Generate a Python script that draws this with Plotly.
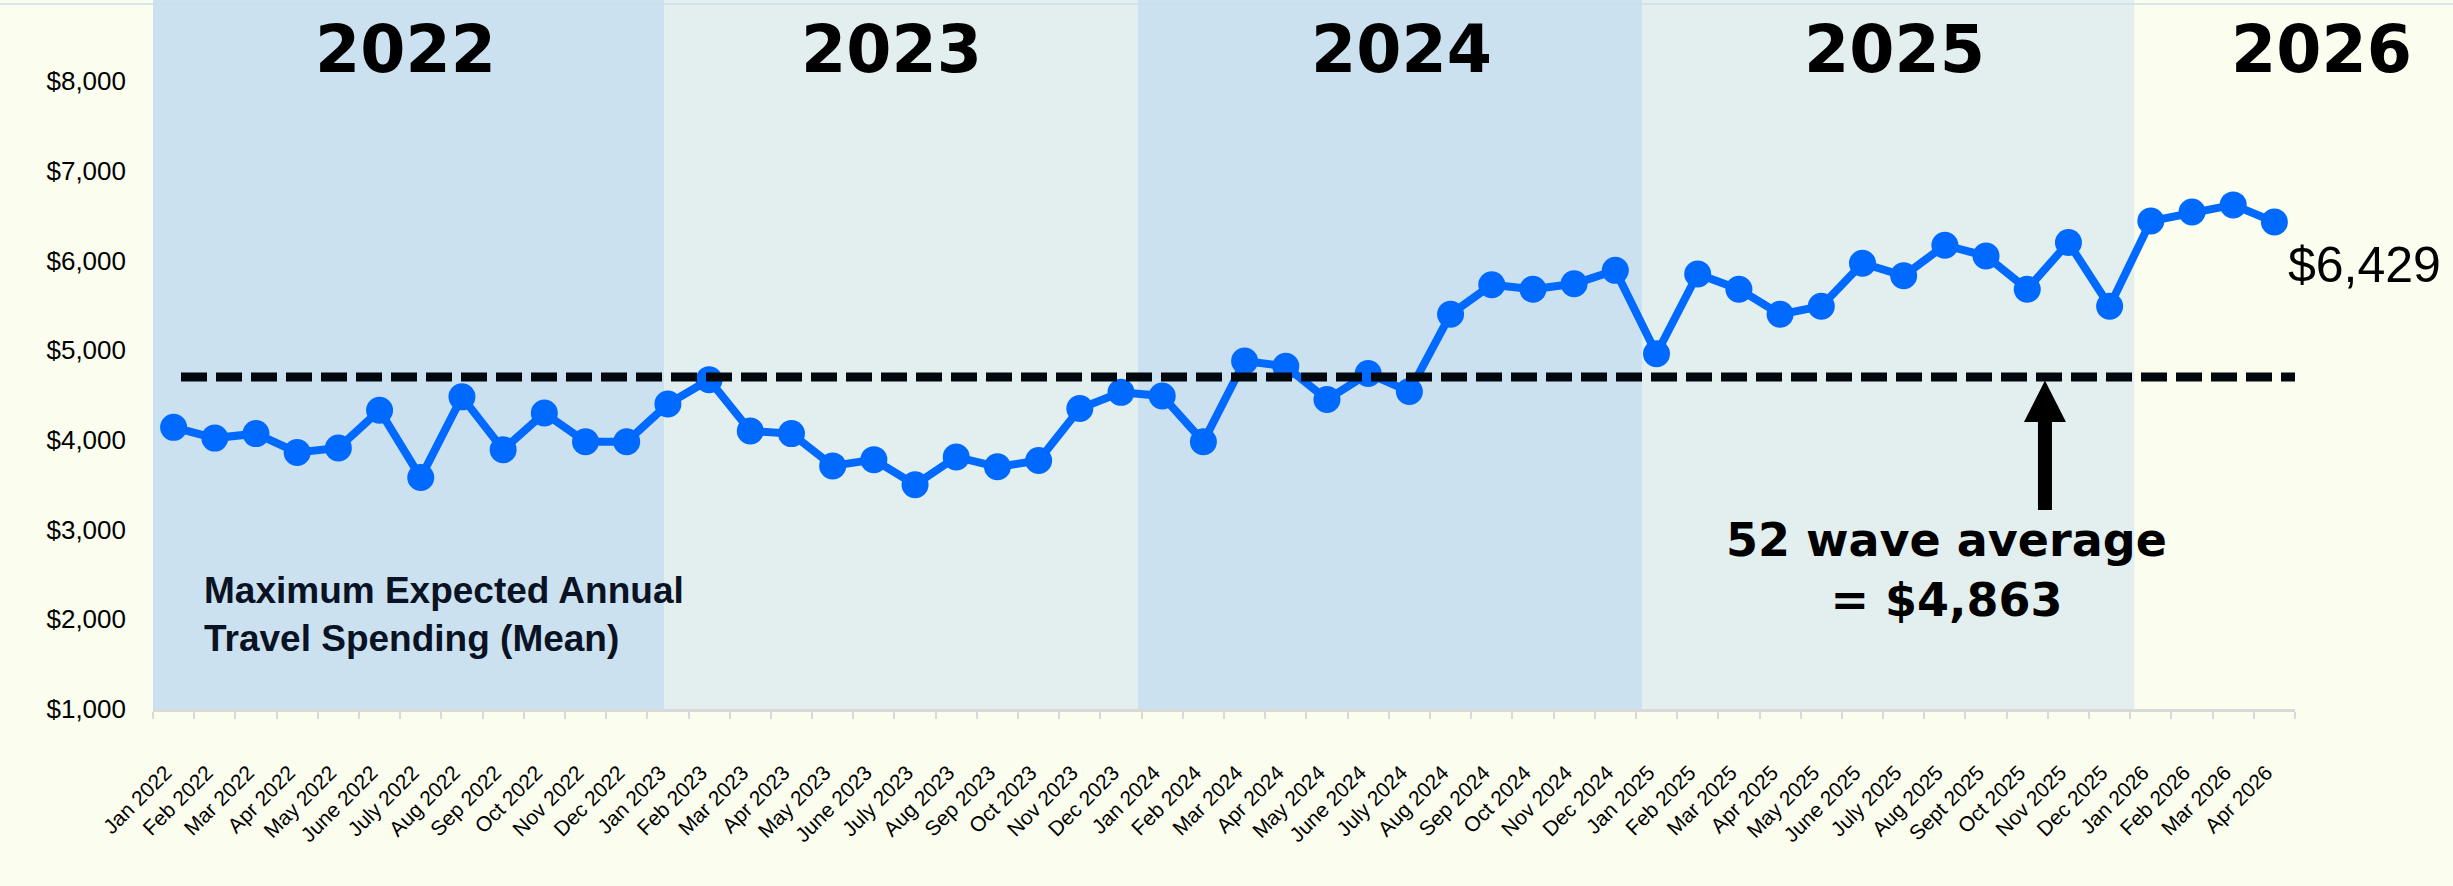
import plotly.graph_objects as go

# ---------------- data ----------------
months = ["Jan 2022", "Feb 2022", "Mar 2022", "Apr 2022", "May 2022", "June 2022",
          "July 2022", "Aug 2022", "Sep 2022", "Oct 2022", "Nov 2022", "Dec 2022",
          "Jan 2023", "Feb 2023", "Mar 2023", "Apr 2023", "May 2023", "June 2023",
          "July 2023", "Aug 2023", "Sep 2023", "Oct 2023", "Nov 2023", "Dec 2023",
          "Jan 2024", "Feb 2024", "Mar 2024", "Apr 2024", "May 2024", "June 2024",
          "July 2024", "Aug 2024", "Sep 2024", "Oct 2024", "Nov 2024", "Dec 2024",
          "Jan 2025", "Feb 2025", "Mar 2025", "Apr 2025", "May 2025", "June 2025",
          "July 2025", "Aug 2025", "Sept 2025", "Oct 2025", "Nov 2025", "Dec 2025",
          "Jan 2026", "Feb 2026", "Mar 2026", "Apr 2026"]

spending = [4140, 4020, 4070, 3860, 3910, 4330, 3580, 4480, 3890, 4300, 3980, 3980,
            4400, 4670, 4100, 4070, 3710, 3780, 3500, 3810, 3700, 3770, 4350, 4530,
            4490, 3980, 4880, 4820, 4450, 4740, 4540, 5400, 5730, 5680, 5740, 5890,
            4960, 5850, 5680, 5400, 5490, 5970, 5830, 6170, 6050, 5680, 6200, 5490,
            6440, 6540, 6620, 6429]

average_line_value = 4700
average_label = "52 wave average<br>= $4,863"
last_label = "$6,429"
series_label = "Maximum Expected Annual<br>Travel Spending (Mean)"

year_labels = ["2022", "2023", "2024", "2025", "2026"]
year_label_pos = [0.118, 0.345, 0.583, 0.813, 1.0126]       # fraction of plot width
band_edges = [-0.5, 11.91, 23.41, 35.65, 47.6]              # shaded year bands
band_colors = ["#CCE1F0", "#E3EFEF", "#CCE1F0", "#E3EFEF"]

y_ticks = [1000, 2000, 3000, 4000, 5000, 6000, 7000, 8000]
y_tick_text = ["${:,}".format(v) for v in y_ticks]

# ---------------- styles ----------------
BG = "#FBFDEE"
BLUE = "#0069FF"
AXIS_GRAY = "#D9D9D9"
INK = "#000000"
NAVY = "#0A1324"

fig = go.Figure()

fig.add_trace(go.Scatter(
    x=months, y=spending, mode="lines+markers",
    line=dict(color=BLUE, width=8),
    marker=dict(color=BLUE, size=27),
    hoverinfo="x+y", showlegend=False, cliponaxis=False,
))

shapes = []
# year bands
for i, col in enumerate(band_colors):
    shapes.append(dict(type="rect", xref="x", yref="paper",
                       x0=band_edges[i], x1=band_edges[i + 1], y0=0, y1=1,
                       fillcolor=col, line=dict(width=0), layer="below"))
# faint top rule
shapes.append(dict(type="line", xref="paper", yref="paper",
                   x0=-153 / 2142, x1=1 + 158 / 2142, y0=1 - 4 / 709, y1=1 - 4 / 709,
                   line=dict(color="#C9DEEC", width=1.5), layer="below"))
# dashed average line
shapes.append(dict(type="line", xref="x", yref="y",
                   x0=0.18, x1=51.67, y0=average_line_value, y1=average_line_value,
                   line=dict(color="#03080F", width=9, dash="26px,9px")))
# arrow (shaft + head), pixel-sized, anchored on the average line
arrow_x = 45.43
shapes.append(dict(type="path", xref="x", yref="y",
                   xsizemode="pixel", ysizemode="pixel",
                   xanchor=arrow_x, yanchor=average_line_value,
                   path="M -7,-44 L 7,-44 L 7,-133 L -7,-133 Z",
                   fillcolor=INK, line=dict(width=0)))
shapes.append(dict(type="path", xref="x", yref="y",
                   xsizemode="pixel", ysizemode="pixel",
                   xanchor=arrow_x, yanchor=average_line_value,
                   path="M 0,-3.5 L 21,-45 L -21,-45 Z",
                   fillcolor=INK, line=dict(width=0)))

annotations = []
for lab, pos in zip(year_labels, year_label_pos):
    annotations.append(dict(x=pos, y=8348, xref="paper", yref="y", text=lab,
                            showarrow=False, xanchor="center", yanchor="middle",
                            font=dict(family="DejaVu Sans", size=65, color=INK,
                                      weight="bold")))
annotations.append(dict(x=43.05, y=2550, xref="x", yref="y", text=average_label,
                        showarrow=False, xanchor="center", yanchor="middle",
                        align="center",
                        font=dict(family="DejaVu Sans", size=46, color=INK,
                                  weight="bold")))
annotations.append(dict(x=0.69, y=2048, xref="x", yref="y", text=series_label,
                        showarrow=False, xanchor="left", yanchor="middle",
                        align="left",
                        font=dict(family="Liberation Sans", size=37, color=NAVY,
                                  weight="bold")))
annotations.append(dict(x=1.0, y=5951, xref="paper", yref="y", text=last_label,
                        showarrow=False, xanchor="left", yanchor="middle",
                        xshift=-9,
                        font=dict(family="Liberation Sans", size=50, color=INK)))

fig.update_layout(
    width=2453, height=886,
    margin=dict(l=153, r=158, t=0, b=177, pad=0),
    paper_bgcolor=BG, plot_bgcolor=BG,
    shapes=shapes, annotations=annotations,
    showlegend=False,
    xaxis=dict(type="category", categoryorder="array", categoryarray=months,
               range=[-0.5, 51.5], tickson="boundaries", ticks="outside",
               ticklen=7, tickwidth=2, tickcolor=AXIS_GRAY,
               showline=True, linecolor=AXIS_GRAY, linewidth=3,
               showgrid=False, zeroline=False, tickangle=-45,
               ticklabelstandoff=40, ticklabelshift=-8,
               tickfont=dict(family="Liberation Sans", size=21, color=INK)),
    yaxis=dict(range=[1000, 8904], tickvals=y_ticks, ticktext=y_tick_text,
               showgrid=False, zeroline=False, showline=False, ticks="",
               ticklabelstandoff=26,
               tickfont=dict(family="Liberation Sans", size=26, color=INK)),
)

fig.write_html(
    "out.html",
    config={"displayModeBar": False},
    post_script="document.body.style.margin='0';document.body.style.overflow='hidden';",
)
